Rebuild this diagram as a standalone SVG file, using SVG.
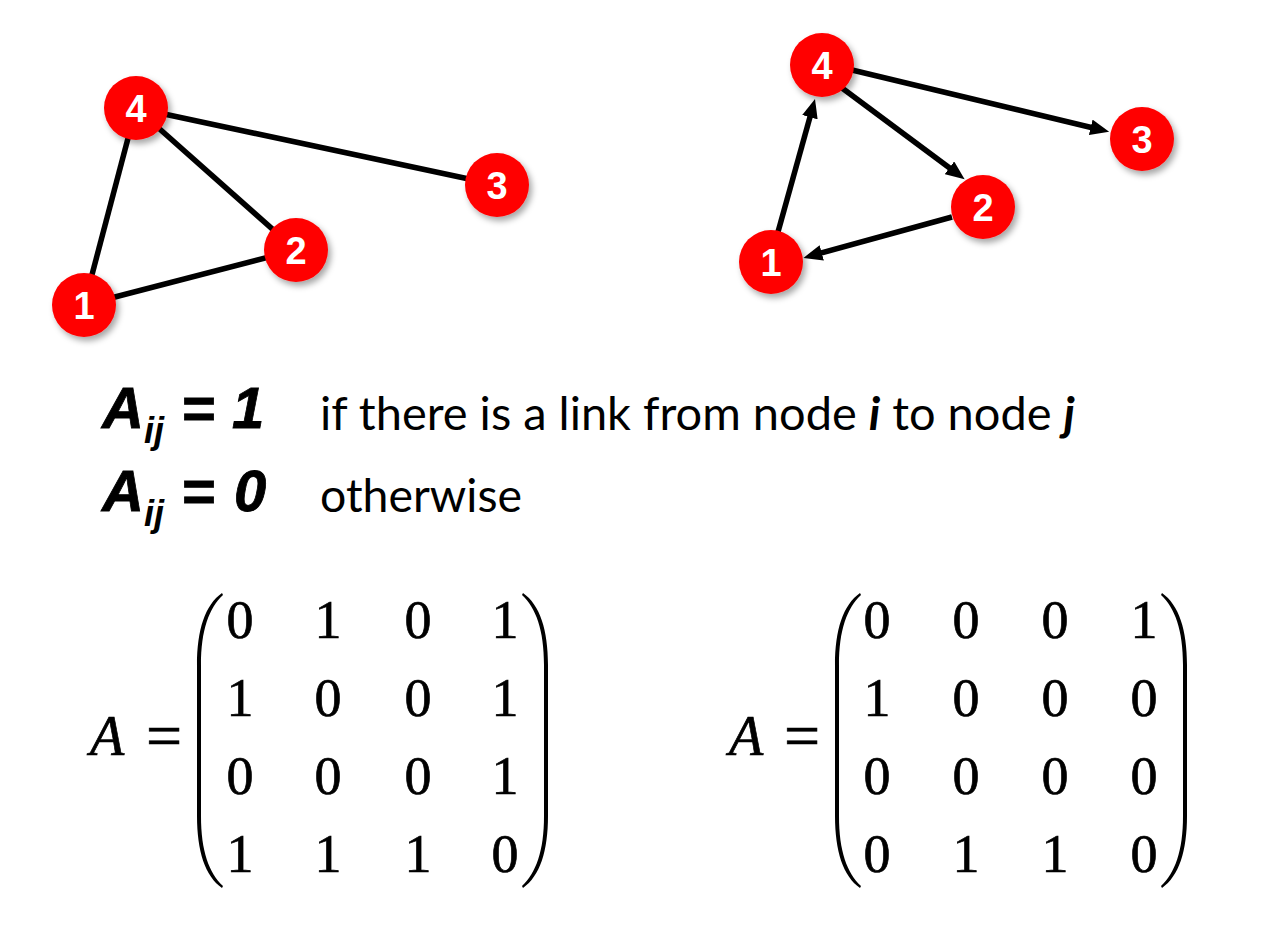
<svg xmlns="http://www.w3.org/2000/svg" xmlns:xlink="http://www.w3.org/1999/xlink" width="1266" height="926" viewBox="0 0 1266 926">
<style>
.edge{stroke:#000;stroke-width:5.5;fill:none}
.node circle{fill:#FF0000}
.node text{font-family:"Liberation Sans",Arial,sans-serif;font-weight:bold;font-size:38px;fill:#fff;text-anchor:middle}
.big{font-family:"Liberation Sans",Arial,sans-serif;font-weight:bold;font-style:italic;font-size:58px;fill:#000;stroke:#000;stroke-width:0.8}
.sub{font-family:"Liberation Sans",Arial,sans-serif;font-weight:bold;font-style:italic;font-size:36px;fill:#000}
.body{font-family:Lato,"Open Sans",sans-serif;font-size:46px;fill:#000}
.bi{font-weight:bold;font-style:italic}
.m{font-family:"Liberation Serif",serif;font-size:54px;fill:#000;stroke:#000;stroke-width:0.7;text-anchor:middle}
.mA{font-family:"Liberation Serif",serif;font-style:italic;font-size:56px;fill:#000;stroke:#000;stroke-width:0.7}
.meq{font-family:"Liberation Serif",serif;font-size:64px;fill:#000;stroke:#000;stroke-width:0.6}
</style>
<defs>
<filter id="sh" x="-30%" y="-30%" width="170%" height="170%">
<feDropShadow dx="3" dy="4" stdDeviation="3" flood-color="#000" flood-opacity="0.35"/>
</filter>
<marker id="arr" markerUnits="userSpaceOnUse" markerWidth="20" markerHeight="16" refX="7" refY="8" orient="auto">
<path d="M0,0 L19,8 L0,16 Z" fill="#000"/>
</marker>
<path id="lp" d="M 25 0 C 8 12 0 37 0 72 L 0 223 C 0 258 8 283 25 295 L 26 293 C 12 280 4 258 4 223 L 4 72 C 4 37 12 15 26 2 Z" fill="#000"/>
</defs>
<rect width="1266" height="926" fill="#fff"/>

<g id="connectors">
<line class="edge" x1="136" y1="108" x2="497" y2="185"/>
<line class="edge" x1="136" y1="108" x2="296" y2="250"/>
<line class="edge" x1="136" y1="108" x2="84" y2="305"/>
<line class="edge" x1="84" y1="305" x2="296" y2="250"/>
<line class="edge" x1="778" y1="232" x2="811.8" y2="110.5" marker-end="url(#arr)"/>
<line class="edge" x1="838" y1="85" x2="955" y2="172" marker-end="url(#arr)"/>
<line class="edge" x1="852" y1="70" x2="1097.5" y2="129" marker-end="url(#arr)"/>
<line class="edge" x1="952" y1="217" x2="815" y2="254.7" marker-end="url(#arr)"/>
</g>

<g id="L4" class="node"><circle cx="136" cy="108" r="32" filter="url(#sh)"/><text x="136" y="122">4</text></g>
<g id="L3" class="node"><circle cx="497" cy="185" r="32" filter="url(#sh)"/><text x="497" y="199">3</text></g>
<g id="L2" class="node"><circle cx="296" cy="250" r="32" filter="url(#sh)"/><text x="296" y="264">2</text></g>
<g id="L1" class="node"><circle cx="84" cy="305" r="32" filter="url(#sh)"/><text x="84" y="319">1</text></g>

<g id="R4" class="node"><circle cx="822" cy="65" r="32" filter="url(#sh)"/><text x="822" y="79">4</text></g>
<g id="R3" class="node"><circle cx="1142" cy="139" r="32" filter="url(#sh)"/><text x="1142" y="153">3</text></g>
<g id="R2" class="node"><circle cx="983" cy="207" r="32" filter="url(#sh)"/><text x="983" y="221">2</text></g>
<g id="R1" class="node"><circle cx="771" cy="262" r="32" filter="url(#sh)"/><text x="771" y="276">1</text></g>

<g id="definition">
<text class="big" x="102" y="428">A</text>
<text class="sub" x="144" y="443">ij</text>
<text class="big" x="181" y="428">=</text>
<text class="big" x="232" y="428">1</text>
<text class="body" x="320" y="430" textLength="755" lengthAdjust="spacingAndGlyphs">if there is a link from node <tspan class="bi">i</tspan> to node <tspan class="bi">j</tspan></text>
<text class="big" x="102" y="511">A</text>
<text class="sub" x="144" y="526">ij</text>
<text class="big" x="181" y="511">=</text>
<text class="big" x="234" y="511">0</text>
<text class="body" x="320" y="512" textLength="202" lengthAdjust="spacingAndGlyphs">otherwise</text>
</g>

<g id="matrix-left">
<text class="mA" x="90" y="755">A</text>
<text class="meq" x="146" y="757">=</text>
<use xlink:href="#lp" href="#lp" transform="translate(197,593)"/>
<use xlink:href="#lp" href="#lp" transform="translate(548,593) scale(-1,1)"/>
<text class="m" x="240" y="638">0</text><text class="m" x="328" y="638">1</text><text class="m" x="418" y="638">0</text><text class="m" x="505" y="638">1</text>
<text class="m" x="240" y="716">1</text><text class="m" x="328" y="716">0</text><text class="m" x="418" y="716">0</text><text class="m" x="505" y="716">1</text>
<text class="m" x="240" y="794">0</text><text class="m" x="328" y="794">0</text><text class="m" x="418" y="794">0</text><text class="m" x="505" y="794">1</text>
<text class="m" x="240" y="872">1</text><text class="m" x="328" y="872">1</text><text class="m" x="418" y="872">1</text><text class="m" x="505" y="872">0</text>
</g>

<g id="matrix-right">
<text class="mA" x="729" y="755">A</text>
<text class="meq" x="784" y="757">=</text>
<use xlink:href="#lp" href="#lp" transform="translate(835,593)"/>
<use xlink:href="#lp" href="#lp" transform="translate(1187,593) scale(-1,1)"/>
<text class="m" x="877" y="638">0</text><text class="m" x="966" y="638">0</text><text class="m" x="1055" y="638">0</text><text class="m" x="1144" y="638">1</text>
<text class="m" x="877" y="716">1</text><text class="m" x="966" y="716">0</text><text class="m" x="1055" y="716">0</text><text class="m" x="1144" y="716">0</text>
<text class="m" x="877" y="794">0</text><text class="m" x="966" y="794">0</text><text class="m" x="1055" y="794">0</text><text class="m" x="1144" y="794">0</text>
<text class="m" x="877" y="872">0</text><text class="m" x="966" y="872">1</text><text class="m" x="1055" y="872">1</text><text class="m" x="1144" y="872">0</text>
</g>
</svg>
